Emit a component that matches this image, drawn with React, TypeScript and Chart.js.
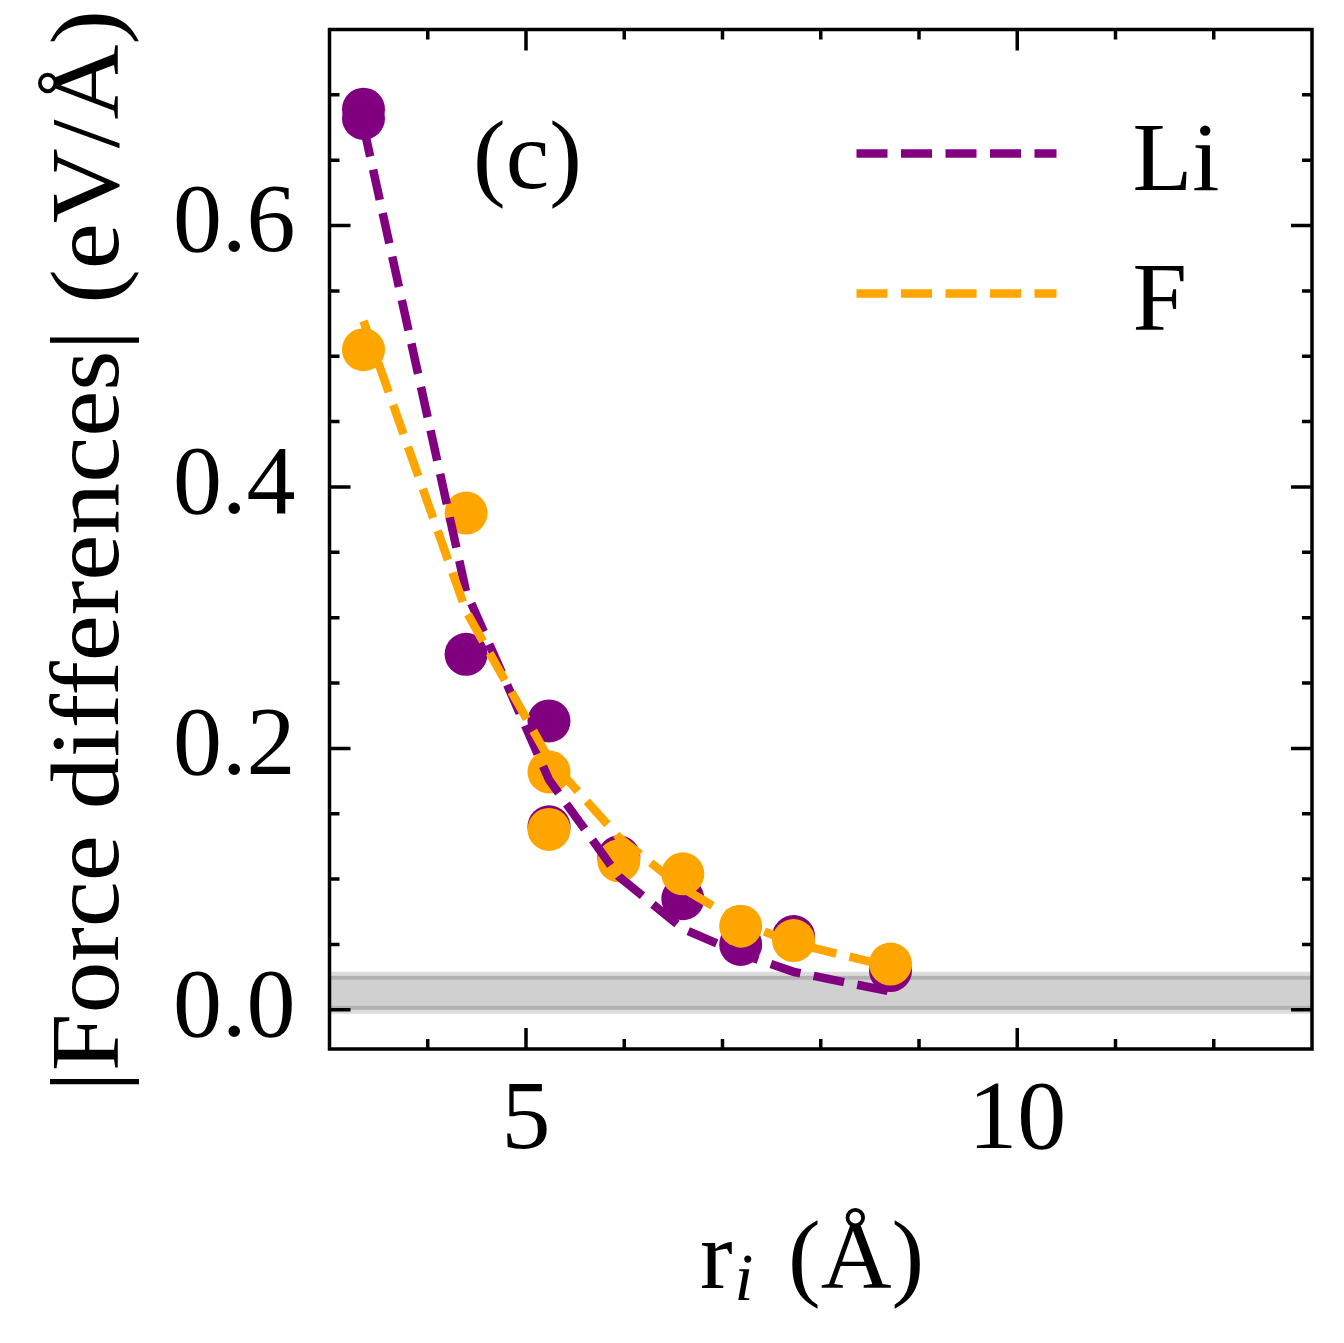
import React, { useEffect, useRef } from 'react';
import { Chart, registerables } from 'chart.js';

Chart.register(...registerables);

// ---- Data ----
const liR = [3.346, 3.346, 4.39, 5.234, 5.234, 5.945, 6.596, 7.185, 7.724, 8.71];
const liForce = [0.689, 0.682, 0.272, 0.221, 0.140, 0.117, 0.085, 0.050, 0.056, 0.030];
const fR = [3.346, 4.39, 5.234, 5.234, 5.945, 6.596, 7.185, 7.724, 8.71];
const fForce = [0.505, 0.380, 0.182, 0.138, 0.114, 0.104, 0.064, 0.053, 0.035];
const fitR = [3.346, 4.39, 5.234, 5.945, 6.596, 7.185, 7.724, 8.71];
const liFit = [0.676, 0.320, 0.176, 0.102, 0.062, 0.043, 0.029, 0.014];
const fFit = [0.527, 0.305, 0.192, 0.132, 0.093, 0.067, 0.051, 0.033];

const xMajorTicks = [5, 10];
const xTickLabels = ['5', '10'];
const xMinorTicks = [4, 6, 7, 8, 9, 11, 12];
const yMajorTicks = [0.0, 0.2, 0.4, 0.6];
const yTickLabels = ['0.0', '0.2', '0.4', '0.6'];
const yMinorTicks = [0.05, 0.1, 0.15, 0.25, 0.3, 0.35, 0.45, 0.5, 0.55, 0.65, 0.7];
const bandRange = [0.0, 0.026];
const seriesNames = ['Li', 'F'];
const panelLabel = '(c)';
const yTitle = '|Force differences| (eV/Å)';
const xTitleMain = 'r';
const xTitleSub = 'i';
const xTitleRest = ' (Å)';

const PURPLE = '#800080';
const ORANGE = '#FFA500';
const FONT = "'Liberation Serif', 'Times New Roman', serif";
const W = 1344;
const H = 1343;

const toPts = (xs: number[], ys: number[]) => xs.map((x, i) => ({ x, y: ys[i] }));

const decor = {
  id: 'decor',
  beforeDatasetsDraw(chart: any) {
    const { ctx, chartArea: a, scales } = chart;
    const y = scales.y;
    const yTop = y.getPixelForValue(bandRange[1]);
    const yBot = y.getPixelForValue(bandRange[0]);
    const w = a.right - a.left;
    ctx.save();
    ctx.fillStyle = '#dcdcdc';
    ctx.fillRect(a.left, yTop - 4, w, yBot - yTop + 8);
    ctx.fillStyle = '#d0d0d0';
    ctx.fillRect(a.left, yTop + 4, w, yBot - yTop - 8);
    ctx.fillStyle = '#b2b2b2';
    ctx.fillRect(a.left, yTop, w, 4);
    ctx.fillRect(a.left, yBot - 4, w, 4);
    ctx.restore();
  },
  afterDraw(chart: any) {
    const { ctx, chartArea: a, scales } = chart;
    const x = scales.x;
    const y = scales.y;
    ctx.save();
    // frame
    ctx.strokeStyle = '#000';
    ctx.lineWidth = 3.5;
    ctx.strokeRect(a.left, a.top, a.right - a.left, a.bottom - a.top);
    // ticks (inward, all four sides)
    const drawX = (v: number, len: number) => {
      const px = x.getPixelForValue(v);
      ctx.beginPath();
      ctx.moveTo(px, a.bottom);
      ctx.lineTo(px, a.bottom - len);
      ctx.moveTo(px, a.top);
      ctx.lineTo(px, a.top + len);
      ctx.stroke();
    };
    const drawY = (v: number, len: number) => {
      const py = y.getPixelForValue(v);
      ctx.beginPath();
      ctx.moveTo(a.left, py);
      ctx.lineTo(a.left + len, py);
      ctx.moveTo(a.right, py);
      ctx.lineTo(a.right - len, py);
      ctx.stroke();
    };
    ctx.lineWidth = 3.5;
    xMajorTicks.forEach((v) => drawX(v, 21));
    xMinorTicks.forEach((v) => drawX(v, 10));
    yMajorTicks.forEach((v) => drawY(v, 21));
    yMinorTicks.forEach((v) => drawY(v, 10));

    ctx.fillStyle = '#000';
    ctx.textBaseline = 'alphabetic';

    // panel label
    ctx.font = `98px ${FONT}`;
    ctx.textAlign = 'center';
    ctx.fillText(panelLabel, a.left + 198, a.top + 158);

    // legend
    const colors = [PURPLE, ORANGE];
    const rowsY = [a.top + 124, a.top + 264];
    seriesNames.forEach((name, i) => {
      ctx.save();
      ctx.strokeStyle = colors[i];
      ctx.lineWidth = 8.5;
      ctx.lineCap = 'butt';
      ctx.setLineDash([31, 13.5]);
      ctx.beginPath();
      ctx.moveTo(a.left + 527, rowsY[i]);
      ctx.lineTo(a.left + 727, rowsY[i]);
      ctx.stroke();
      ctx.restore();
      ctx.textAlign = 'left';
      ctx.font = `98px ${FONT}`;
      ctx.fillText(name, a.left + 803, rowsY[i] + 36);
    });

    // y title (rotated)
    ctx.save();
    ctx.font = `98px ${FONT}`;
    const tw = ctx.measureText(yTitle).width;
    ctx.translate(118, 551);
    ctx.rotate(-Math.PI / 2);
    ctx.scale(1082 / tw, 1);
    ctx.textAlign = 'center';
    ctx.fillText(yTitle, 0, 0);
    ctx.restore();

    // x title with italic subscript
    ctx.textAlign = 'left';
    const mainFont = `98px ${FONT}`;
    const subFont = `italic 68px ${FONT}`;
    ctx.font = mainFont;
    const w1 = ctx.measureText(xTitleMain).width;
    const w3 = ctx.measureText(xTitleRest).width;
    ctx.font = subFont;
    const w2 = ctx.measureText(xTitleSub).width + 12;
    const total = w1 + w2 + w3;
    let sx = 812 - total / 2;
    const base = 1288;
    ctx.font = mainFont;
    ctx.fillText(xTitleMain, sx, base);
    sx += w1;
    ctx.font = subFont;
    ctx.fillText(xTitleSub, sx + 2, base + 12);
    sx += w2;
    ctx.font = mainFont;
    ctx.fillText(xTitleRest, sx, base);
    ctx.restore();
  },
};

export default function App() {
  const ref = useRef<HTMLCanvasElement | null>(null);
  useEffect(() => {
    if (!ref.current) return;
    const chart = new Chart(ref.current, {
      type: 'scatter',
      data: {
        datasets: [
          {
            label: seriesNames[1] + ' fit',
            data: toPts(fitR, fFit),
            showLine: true,
            borderColor: ORANGE,
            borderWidth: 8.5,
            borderDash: [31, 13.5],
            borderCapStyle: 'butt',
            pointRadius: 0,
            pointHoverRadius: 0,
            tension: 0,
            fill: false,
            order: 1,
          },
          {
            label: seriesNames[0] + ' fit',
            data: toPts(fitR, liFit),
            showLine: true,
            borderColor: PURPLE,
            borderWidth: 8.5,
            borderDash: [31, 13.5],
            borderCapStyle: 'butt',
            pointRadius: 0,
            pointHoverRadius: 0,
            tension: 0,
            fill: false,
            order: 2,
          },
          {
            label: seriesNames[1],
            data: toPts(fR, fForce),
            showLine: false,
            backgroundColor: ORANGE,
            borderColor: ORANGE,
            pointRadius: 21.5,
            pointHoverRadius: 21.5,
            pointBorderWidth: 0,
            order: 3,
          },
          {
            label: seriesNames[0],
            data: toPts(liR, liForce),
            showLine: false,
            backgroundColor: PURPLE,
            borderColor: PURPLE,
            pointRadius: 21.5,
            pointHoverRadius: 21.5,
            pointBorderWidth: 0,
            order: 4,
          },
        ],
      },
      options: {
        animation: false,
        responsive: false,
        events: [],
        layout: { padding: { left: 0, top: 29.5, right: 32, bottom: 0 } },
        plugins: { legend: { display: false }, tooltip: { enabled: false } },
        scales: {
          x: {
            type: 'linear',
            min: 3,
            max: 13,
            grid: { display: false, drawTicks: false, drawOnChartArea: false },
            border: { display: false },
            afterBuildTicks: (s: any) => {
              s.ticks = xMajorTicks.map((v) => ({ value: v }));
            },
            afterFit: (s: any) => {
              s.height = H - 1049;
              s.paddingLeft = 0;
              s.paddingRight = 0;
            },
            ticks: {
              autoSkip: false,
              maxRotation: 0,
              minRotation: 0,
              padding: 14,
              color: '#000',
              font: { family: FONT, size: 98 },
              callback: (v: any) => {
                const i = xMajorTicks.findIndex((t) => Math.abs(t - Number(v)) < 1e-9);
                return i >= 0 ? xTickLabels[i] : '';
              },
            },
          },
          y: {
            type: 'linear',
            min: -0.03,
            max: 0.75,
            grid: { display: false, drawTicks: false, drawOnChartArea: false },
            border: { display: false },
            afterBuildTicks: (s: any) => {
              s.ticks = yMajorTicks.map((v) => ({ value: v }));
            },
            afterFit: (s: any) => {
              s.width = 329.5;
              s.paddingTop = 0;
              s.paddingBottom = 0;
            },
            ticks: {
              autoSkip: false,
              padding: 34,
              color: '#000',
              font: { family: FONT, size: 98 },
              callback: (v: any) => {
                const i = yMajorTicks.findIndex((t) => Math.abs(t - Number(v)) < 1e-9);
                return i >= 0 ? yTickLabels[i] : '';
              },
            },
          },
        },
      } as any,
      plugins: [decor],
    });
    return () => chart.destroy();
  }, []);

  return (
    <div style={{ position: 'absolute', left: 0, top: 0, width: W, height: H, background: '#fff' }}>
      <canvas ref={ref} width={W} height={H} style={{ width: W, height: H, display: 'block' }} />
    </div>
  );
}
